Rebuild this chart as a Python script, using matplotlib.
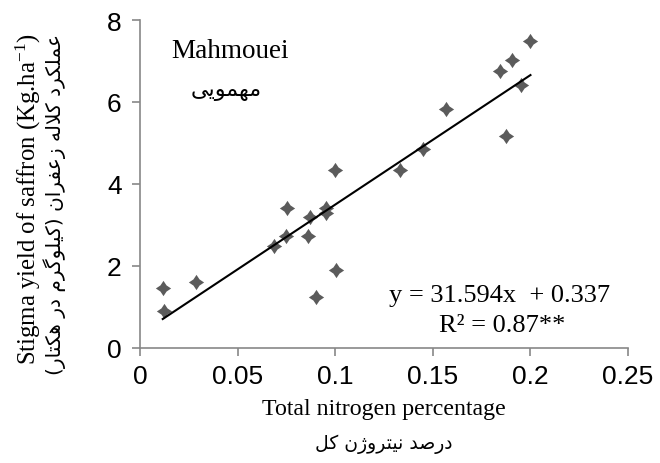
import matplotlib
matplotlib.use("Agg")
import matplotlib.pyplot as plt
from matplotlib.path import Path
import numpy as np

# ---------------- data ----------------
nitrogen = [0.0115, 0.0121, 0.0285, 0.0685, 0.0746, 0.0750, 0.0861, 0.0869,
            0.0900, 0.0951, 0.0951, 0.0996, 0.1003, 0.1330, 0.1450, 0.1566,
            0.1846, 0.1877, 0.1906, 0.1950, 0.2000]
stigma_yield = [1.45, 0.90, 1.61, 2.49, 2.73, 3.40, 2.73, 3.18,
                1.23, 3.40, 3.29, 4.35, 1.90, 4.35, 4.85, 5.83,
                6.76, 5.17, 7.02, 6.41, 7.49]
slope = 31.594
intercept = 0.337
x_ticks = [0, 0.05, 0.1, 0.15, 0.2, 0.25]
x_tick_labels = ["0", "0.05", "0.1", "0.15", "0.2", "0.25"]
y_ticks = [0, 2, 4, 6, 8]
y_tick_labels = ["0", "2", "4", "6", "8"]

site_en = "Mahmouei"
site_fa = "مهمویی"
eq_text = "y = 31.594x  + 0.337"
r2_text = "R² = 0.87**"
xlabel_en = "Total nitrogen percentage"
xlabel_fa = "درصد نیتروژن کل"
ylabel_en = r"Stigma yield of saffron (Kg.ha$^{-1}$)"
ylabel_fa = "عملکرد کلاله زعفران (کیلوگرم در هکتار)"

# ------------- simple Persian shaping (presentation forms + RTL order) -------------
FORMS = {  # isolated, final, initial, medial
    'ا': (0xFE8D, 0xFE8E, None, None), 'آ': (0xFE81, 0xFE82, None, None),
    'ب': (0xFE8F, 0xFE90, 0xFE91, 0xFE92), 'پ': (0xFB56, 0xFB57, 0xFB58, 0xFB59),
    'ت': (0xFE95, 0xFE96, 0xFE97, 0xFE98), 'ث': (0xFE99, 0xFE9A, 0xFE9B, 0xFE9C),
    'ج': (0xFE9D, 0xFE9E, 0xFE9F, 0xFEA0), 'چ': (0xFB7A, 0xFB7B, 0xFB7C, 0xFB7D),
    'ح': (0xFEA1, 0xFEA2, 0xFEA3, 0xFEA4), 'خ': (0xFEA5, 0xFEA6, 0xFEA7, 0xFEA8),
    'د': (0xFEA9, 0xFEAA, None, None), 'ذ': (0xFEAB, 0xFEAC, None, None),
    'ر': (0xFEAD, 0xFEAE, None, None), 'ز': (0xFEAF, 0xFEB0, None, None),
    'ژ': (0xFB8A, 0xFB8B, None, None),
    'س': (0xFEB1, 0xFEB2, 0xFEB3, 0xFEB4), 'ش': (0xFEB5, 0xFEB6, 0xFEB7, 0xFEB8),
    'ص': (0xFEB9, 0xFEBA, 0xFEBB, 0xFEBC), 'ض': (0xFEBD, 0xFEBE, 0xFEBF, 0xFEC0),
    'ط': (0xFEC1, 0xFEC2, 0xFEC3, 0xFEC4), 'ظ': (0xFEC5, 0xFEC6, 0xFEC7, 0xFEC8),
    'ع': (0xFEC9, 0xFECA, 0xFECB, 0xFECC), 'غ': (0xFECD, 0xFECE, 0xFECF, 0xFED0),
    'ف': (0xFED1, 0xFED2, 0xFED3, 0xFED4), 'ق': (0xFED5, 0xFED6, 0xFED7, 0xFED8),
    'ک': (0xFB8E, 0xFB8F, 0xFB90, 0xFB91), 'گ': (0xFB92, 0xFB93, 0xFB94, 0xFB95),
    'ل': (0xFEDD, 0xFEDE, 0xFEDF, 0xFEE0), 'م': (0xFEE1, 0xFEE2, 0xFEE3, 0xFEE4),
    'ن': (0xFEE5, 0xFEE6, 0xFEE7, 0xFEE8), 'ه': (0xFEE9, 0xFEEA, 0xFEEB, 0xFEEC),
    'و': (0xFEED, 0xFEEE, None, None), 'ی': (0xFBFC, 0xFBFD, 0xFBFE, 0xFBFF),
    'LA': (0xFEFB, 0xFEFC, None, None),
}
MIRROR = {'(': ')', ')': '('}


def shape_fa(text):
    chars = []
    i = 0
    while i < len(text):
        if text[i] == 'ل' and i + 1 < len(text) and text[i + 1] == 'ا':
            chars.append('LA')
            i += 2
        else:
            chars.append(text[i])
            i += 1

    def joins_next(c):  # can connect to following letter
        return c in FORMS and FORMS[c][2] is not None

    out = []
    for k, c in enumerate(chars):
        if c not in FORMS:
            out.append(MIRROR.get(c, c))
            continue
        prev_c = chars[k - 1] if k > 0 else None
        next_c = chars[k + 1] if k + 1 < len(chars) else None
        jp = prev_c is not None and joins_next(prev_c)
        jn = joins_next(c) and next_c is not None and next_c in FORMS
        iso, fin, ini, med = FORMS[c]
        if jp and jn:
            code = med
        elif jp:
            code = fin
        elif jn:
            code = ini
        else:
            code = iso
        out.append(chr(code))
    return ''.join(reversed(out))


# ---------------- style ----------------
plt.rcParams['mathtext.fontset'] = 'custom'
plt.rcParams['mathtext.rm'] = 'Liberation Serif'
plt.rcParams['mathtext.it'] = 'Liberation Serif:italic'
SERIF = ['Liberation Serif', 'DejaVu Serif']
FA = ['DejaVu Sans']
AXIS_GREY = '#878787'
MARK_GREY = '#5B5B5B'

W, H = 660, 464
fig = plt.figure(figsize=(W / 100, H / 100), dpi=100)
x0, x1, ytop, ybot = 140.3, 628, 21, 348.7
ax = fig.add_axes([x0 / W, 1 - ybot / H, (x1 - x0) / W, (ybot - ytop) / H])

c = 0.40
star = Path([(0, 1), (c, c), (1, 0), (c, -c), (0, -1), (-c, -c), (-1, 0), (-c, c), (0, 1)],
            [Path.MOVETO] + [Path.LINETO] * 7 + [Path.CLOSEPOLY])

ax.plot(nitrogen, stigma_yield, linestyle='none', marker=star, markersize=11,
        color=MARK_GREY, markeredgewidth=0, zorder=3)
xl = np.array([min(nitrogen), max(nitrogen)])
ax.plot(xl, slope * xl + intercept, color='black', linewidth=1.5, zorder=4)

ax.set_xlim(0, 0.25)
ax.set_ylim(0, 8)
ax.set_xticks(x_ticks)
ax.set_xticklabels(x_tick_labels)
ax.set_yticks(y_ticks)
ax.set_yticklabels(y_tick_labels)
for s in ['top', 'right']:
    ax.spines[s].set_visible(False)
for s in ['left', 'bottom']:
    ax.spines[s].set_color(AXIS_GREY)
    ax.spines[s].set_linewidth(1.2)
ax.tick_params(axis='both', direction='out', length=5.5, width=1.2, color=AXIS_GREY,
               labelsize=19, labelcolor='black')
ax.tick_params(axis='x', pad=6)
ax.tick_params(axis='y', pad=8)
for lab in ax.get_xticklabels() + ax.get_yticklabels():
    lab.set_fontfamily(['Liberation Sans', 'DejaVu Sans'])
ax.patch.set_alpha(0)


def px(xp, yp):
    return xp / W, 1 - yp / H


fig.text(*px(230, 52), site_en, family=SERIF, fontsize=19.5, ha='center', va='center')
fig.text(*px(226, 91), shape_fa(site_fa), family=FA, fontsize=16, ha='center', va='center')
fig.text(*px(500, 296), eq_text, family=SERIF, fontsize=19, ha='center', va='center')
fig.text(*px(502, 326), r2_text, family=SERIF, fontsize=19, ha='center', va='center')
fig.text(*px(384, 410), xlabel_en, family=SERIF, fontsize=17.2, ha='center', va='center')
fig.text(*px(384, 444), shape_fa(xlabel_fa), family=FA, fontsize=13.5, ha='center', va='center')
fig.text(*px(28, 199), ylabel_en, family=SERIF, fontsize=17.8, ha='center', va='center',
         rotation=90)
fig.text(*px(55, 204), shape_fa(ylabel_fa), family=FA, fontsize=14.5, ha='center', va='center',
         rotation=90)

fig.savefig('out.png', dpi=100)
